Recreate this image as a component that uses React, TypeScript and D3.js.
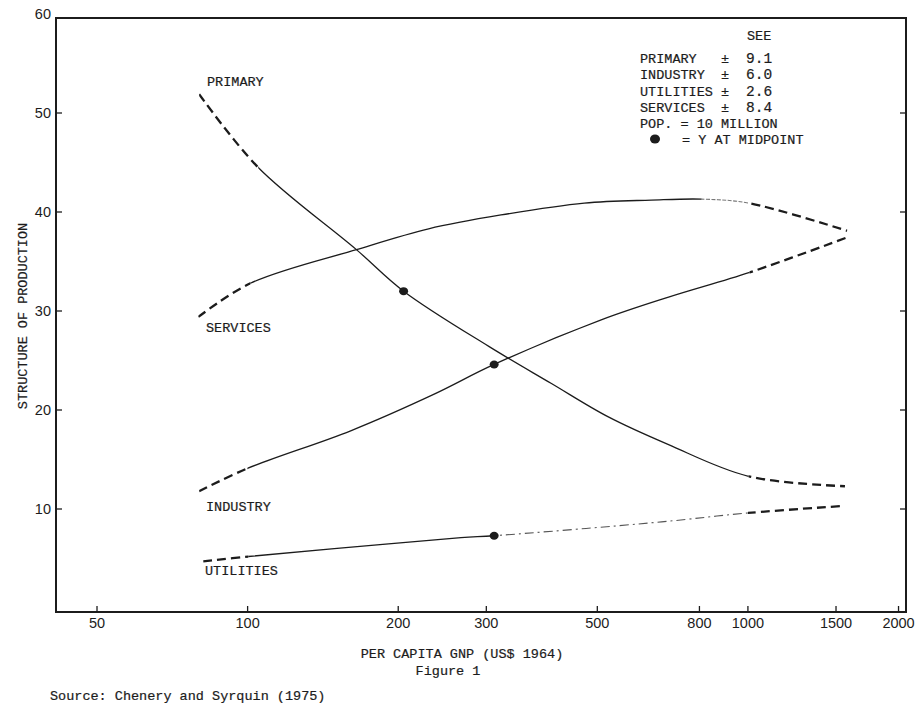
import React from "react"
import * as d3 from "d3"

// per capita GNP (US$ 1964) vs share of production
const primaryGnp = [80, 105, 165, 205, 304, 404, 526, 694, 1003, 1563]
const primaryShare = [51.9, 44.5, 36.2, 32.0, 26.4, 22.7, 19.3, 16.5, 13.3, 12.3]

const servicesGnp = [79.7, 101.3, 165, 230, 321, 471, 641, 808, 1003, 1578]
const servicesShare = [29.4, 32.8, 36.2, 38.3, 39.7, 40.9, 41.2, 41.3, 40.9, 38.1]

const industryGnp = [80, 99.9, 160.7, 236, 311, 509, 694, 1008, 1592]
const industryShare = [11.8, 14.1, 17.9, 21.6, 24.6, 29.1, 31.4, 33.9, 37.5]

const utilitiesGnp = [81.5, 100.3, 149, 267, 311, 672, 1000, 1541]
const utilitiesShare = [4.7, 5.2, 6.0, 7.1, 7.3, 8.7, 9.6, 10.3]

// [style, from index, to index]
const primaryParts = [["dash", 0, 1], ["solid", 1, 8], ["dash", 8, 9]]
const servicesParts = [["dash", 0, 1], ["solid", 1, 7], ["dotted", 7, 8], ["dash", 8, 9]]
const industryParts = [["dash", 0, 1], ["solid", 1, 7], ["dash", 7, 8]]
const utilitiesParts = [["dash", 0, 1], ["solid", 1, 4], ["dashdot", 4, 6], ["dash", 6, 7]]

const midpointGnp = [205, 311, 311]
const midpointShare = [32.0, 24.6, 7.3]

const xTicks = [50, 100, 200, 300, 500, 800, 1000, 1500, 2000]
const yTicks = [10, 20, 30, 40, 50, 60]

const legendNames = ["PRIMARY", "INDUSTRY", "UTILITIES", "SERVICES"]
const legendSee = ["9.1", "6.0", "2.6", "8.4"]

const ink = "#1c1c1c"
const mono = "'Liberation Mono', 'Courier New', monospace"
const sans = "'Liberation Sans', Arial, sans-serif"

const styles = {
    dash: {strokeWidth: 2.3, strokeDasharray: "9 5", opacity: 1},
    solid: {strokeWidth: 1.3, strokeDasharray: "none", opacity: 1},
    dotted: {strokeWidth: 1.1, strokeDasharray: "4 1.5", opacity: 0.6},
    dashdot: {strokeWidth: 1.1, strokeDasharray: "9 4 2 4", opacity: 0.75},
}

const App = () => {
    const left = 56, right = 906, top = 18, bottom = 612

    const x = d3.scaleLog().domain([41.4, 2070]).range([left, right])
    const y = d3.scaleLinear().domain([0, 60]).range([608, 14])

    const line = d3.line<[number, number]>()
        .x(d => x(d[0]))
        .y(d => y(d[1]))
        .curve(d3.curveCatmullRom.alpha(0.5))

    const series = [
        {gnp: primaryGnp, share: primaryShare, parts: primaryParts},
        {gnp: servicesGnp, share: servicesShare, parts: servicesParts},
        {gnp: industryGnp, share: industryShare, parts: industryParts},
        {gnp: utilitiesGnp, share: utilitiesShare, parts: utilitiesParts},
    ]

    const textStyle = {fontFamily: mono, fontSize: 13.5, fill: ink, stroke: ink, strokeWidth: 0.2}

    return (
        <svg width={919} height={704} style={{position: "absolute", left: 0, top: 0, background: "#fff"}}>
            <defs>
                {series.map((s, i) => s.parts.map(([, a, b], j) => (
                    <clipPath key={i + "-" + j} id={"clip-" + i + "-" + j}>
                        <rect x={x(s.gnp[a as number])} y={0}
                            width={x(s.gnp[b as number]) - x(s.gnp[a as number]) + (j === s.parts.length - 1 ? 4 : 0)}
                            height={704} />
                    </clipPath>
                )))}
            </defs>

            {/* frame */}
            <rect x={left} y={top} width={right - left} height={bottom - top}
                fill="none" stroke={ink} strokeWidth={2} />

            {/* x ticks */}
            {xTicks.map(t => (
                <g key={"x" + t}>
                    <line x1={x(t)} x2={x(t)} y1={bottom} y2={bottom - 6} stroke={ink} strokeWidth={1.3} />
                    <text x={x(t)} y={628} textAnchor="middle" fontFamily={sans} fontSize={14.5} fill={ink}>{t}</text>
                </g>
            ))}

            {/* y ticks */}
            {yTicks.map(t => (
                <g key={"y" + t}>
                    {t < 60 && <line x1={left} x2={left + 6} y1={y(t)} y2={y(t)} stroke={ink} strokeWidth={1.3} />}
                    {t < 60 && <line x1={right} x2={right - 6} y1={y(t)} y2={y(t)} stroke={ink} strokeWidth={1.3} />}
                    <text x={51} y={y(t) + 5} textAnchor="end" fontFamily={sans} fontSize={14.5} fill={ink}>{t}</text>
                </g>
            ))}

            {/* curves: one smooth path per series, restyled piece by piece */}
            {series.map((s, i) => {
                const pts = s.gnp.map((g, k) => [g, s.share[k]] as [number, number])
                const d = line(pts) || ""
                return s.parts.map(([kind], j) => {
                    const st = styles[kind as keyof typeof styles]
                    return (
                        <path key={i + "-" + j} d={d} clipPath={`url(#clip-${i}-${j})`}
                            fill="none" stroke={ink} strokeWidth={st.strokeWidth}
                            strokeDasharray={st.strokeDasharray} opacity={st.opacity} />
                    )
                })
            })}

            {/* midpoints */}
            {midpointGnp.map((g, i) => (
                <ellipse key={"m" + i} cx={x(g)} cy={y(midpointShare[i])} rx={4.5} ry={4} fill={ink} />
            ))}

            {/* series labels */}
            <text x={207} y={86} {...textStyle}>PRIMARY</text>
            <text x={206} y={332} {...textStyle}>SERVICES</text>
            <text x={206} y={511} {...textStyle}>INDUSTRY</text>
            <text x={205} y={575} {...textStyle}>UTILITIES</text>

            {/* legend */}
            <text x={747} y={40} {...textStyle}>SEE</text>
            {legendNames.map((n, i) => (
                <g key={n}>
                    <text x={640} y={63 + i * 16.4} {...textStyle}>{n}</text>
                    <text x={725} y={63 + i * 16.4} textAnchor="middle" {...textStyle}>±</text>
                    <text x={746} y={63 + i * 16.4} {...textStyle} fontSize={14.5}>{legendSee[i]}</text>
                </g>
            ))}
            <text x={640} y={128} {...textStyle}>POP. = 10 MILLION</text>
            <ellipse cx={655} cy={139} rx={5} ry={4.5} fill={ink} />
            <text x={682} y={144} {...textStyle}>= Y AT MIDPOINT</text>

            {/* axis titles */}
            <text transform="translate(27,316) rotate(-90)" textAnchor="middle" {...textStyle}>STRUCTURE OF PRODUCTION</text>
            <text x={462} y={658} textAnchor="middle" {...textStyle}>PER CAPITA GNP (US$ 1964)</text>
            <text x={448} y={675} textAnchor="middle" {...textStyle}>Figure 1</text>
            <text x={50} y={700} {...textStyle}>Source:  Chenery and Syrquin (1975)</text>
        </svg>
    )
}

export default App
